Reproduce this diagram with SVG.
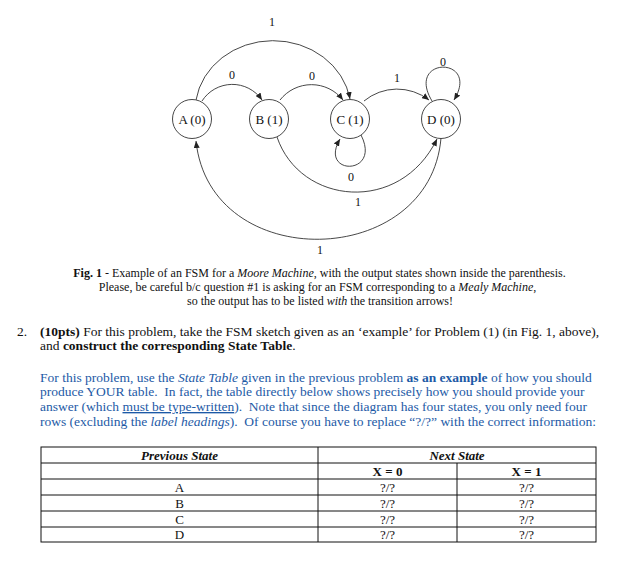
<svg xmlns="http://www.w3.org/2000/svg" width="620" height="564" viewBox="0 0 620 564">
<defs>
<style>
.t{font-family:"Liberation Serif","Times New Roman",serif;fill:#111}
.node{fill:#fff;stroke:#333;stroke-width:0.9}
.nl{font-size:13px;text-anchor:middle}
.el{font-size:12px;text-anchor:middle}
.edge{fill:none;stroke:#333;stroke-width:0.9;marker-end:url(#ah)}
.cap{font-size:12px;text-anchor:middle}
.p{font-size:13.5px}
.blue{fill:#1d5aa6}
.b{font-weight:bold}
.i{font-style:italic}
.tb{stroke:#111;stroke-width:1;fill:none}
.tc{font-size:13px;text-anchor:middle}
</style>
<marker id="ah" markerWidth="8" markerHeight="6" refX="7" refY="3" orient="auto" markerUnits="userSpaceOnUse">
<path d="M0,0 L7,3 L0,6 z" fill="#222"/>
</marker>
</defs>
<rect width="620" height="564" fill="#fff"/>

<g id="connectors">
<path class="edge" d="M 202,101 A 36 36 0 0 1 262,100"/>
<path class="edge" d="M 280,100 A 40 40 0 0 1 343,100"/>
<path class="edge" d="M 196,100 A 78 70 0 0 1 350,99"/>
<path class="edge" d="M 364,101 A 52 52 0 0 1 429,100"/>
<path class="edge" d="M 432,101 C 405,56 481,56 454,100"/>
<path class="edge" d="M 361,135 C 382,176 318,176 340,139"/>
<path class="edge" d="M 277,137 C 300,205 400,215 437,139"/>
<path class="edge" d="M 441,138 C 430,270 210,275 196,141"/>
<text class="t el" x="272" y="26">1</text>
<text class="t el" x="232" y="79">0</text>
<text class="t el" x="312" y="80">0</text>
<text class="t el" x="397" y="82">1</text>
<text class="t el" x="443" y="66">0</text>
<text class="t el" x="351" y="181">0</text>
<text class="t el" x="358" y="206">1</text>
<text class="t el" x="320" y="254">1</text>
</g>

<g id="A"><circle class="node" cx="192" cy="119" r="19.5"/><text class="t nl" x="192" y="123.5">A (0)</text></g>
<g id="B"><circle class="node" cx="269" cy="119" r="19.5"/><text class="t nl" x="269" y="123.5">B (1)</text></g>
<g id="C"><circle class="node" cx="350" cy="119" r="19.5"/><text class="t nl" x="350" y="123.5">C (1)</text></g>
<g id="D"><circle class="node" cx="441" cy="119" r="19.5"/><text class="t nl" x="441" y="123.5">D (0)</text></g>

<g id="caption">
<text class="t cap" x="319.5" y="277"><tspan class="b">Fig. 1</tspan> - Example of an FSM for a <tspan class="i">Moore Machine</tspan>, with the output states shown inside the parenthesis.</text>
<text class="t cap" x="317.5" y="291">Please, be careful b/c question #1 is asking for an FSM corresponding to a <tspan class="i">Mealy Machine</tspan>,</text>
<text class="t cap" x="320" y="305">so the output has to be listed <tspan class="i">with</tspan> the transition arrows!</text>
</g>

<g id="problem">
<text class="t p" x="17" y="336">2.</text>
<text class="t p" x="40" y="336"><tspan class="b">(10pts)</tspan> For this problem, take the FSM sketch given as an ‘example’ for Problem (1) (in Fig. 1, above),</text>
<text class="t p" x="40" y="350">and <tspan class="b">construct the corresponding State Table</tspan>.</text>
<text class="t p blue" x="40" y="382">For this problem, use the <tspan class="i">State Table</tspan> given in the previous problem <tspan class="b">as an example</tspan> of how you should</text>
<text class="t p blue" x="40" y="396" xml:space="preserve">produce YOUR table.  In fact, the table directly below shows precisely how you should provide your</text>
<text class="t p blue" x="40" y="411" xml:space="preserve">answer (which <tspan text-decoration="underline">must be type-written</tspan>).  Note that since the diagram has four states, you only need four</text>
<text class="t p blue" x="40" y="426" xml:space="preserve">rows (excluding the <tspan class="i">label headings</tspan>).  Of course you have to replace “?/?” with the correct information:</text>
</g>

<g id="table">
<rect class="tb" x="41" y="447" width="555" height="95"/>
<line class="tb" x1="318" y1="447" x2="318" y2="542"/>
<line class="tb" x1="457" y1="463" x2="457" y2="542"/>
<line class="tb" x1="41" y1="463" x2="596" y2="463"/>
<line class="tb" x1="41" y1="479" x2="596" y2="479"/>
<line class="tb" x1="41" y1="495" x2="596" y2="495"/>
<line class="tb" x1="41" y1="511" x2="596" y2="511"/>
<line class="tb" x1="41" y1="527" x2="596" y2="527"/>
<text class="t tc b i" x="179.5" y="459.5">Previous State</text>
<text class="t tc b i" x="457" y="459.5">Next State</text>
<text class="t tc b" x="387.5" y="475.5">X = 0</text>
<text class="t tc b" x="526.5" y="475.5">X = 1</text>
<text class="t tc" x="179.5" y="491.5">A</text>
<text class="t tc" x="179.5" y="507.5">B</text>
<text class="t tc" x="179.5" y="523.5">C</text>
<text class="t tc" x="179.5" y="539">D</text>
<text class="t tc" x="387.5" y="491.5">?/?</text>
<text class="t tc" x="526.5" y="491.5">?/?</text>
<text class="t tc" x="387.5" y="507.5">?/?</text>
<text class="t tc" x="526.5" y="507.5">?/?</text>
<text class="t tc" x="387.5" y="523.5">?/?</text>
<text class="t tc" x="526.5" y="523.5">?/?</text>
<text class="t tc" x="387.5" y="539">?/?</text>
<text class="t tc" x="526.5" y="539">?/?</text>
</g>
</svg>
